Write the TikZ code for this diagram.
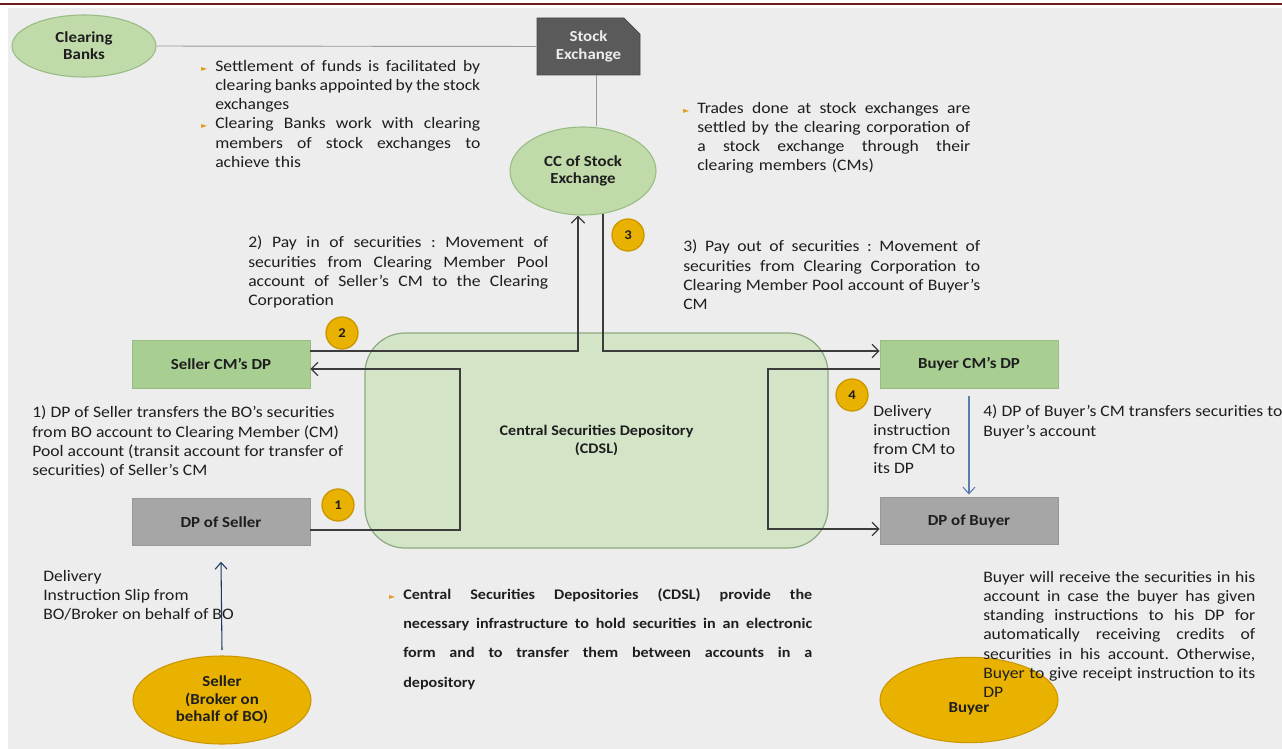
\documentclass[tikz,border=0pt]{standalone}
\usepackage{fontspec}
\setmainfont{Carlito}[FakeStretch=1.1]
\newfontfamily\symfont{DejaVu Sans}
\usetikzlibrary{arrows.meta,shapes.geometric,shapes.misc}
\definecolor{bgc}{HTML}{EDEDED}
\definecolor{redl}{HTML}{6E1C1C}
\definecolor{ellg}{HTML}{C0DAA9}
\definecolor{boxg}{HTML}{A9CE91}
\definecolor{gbord}{HTML}{98BC83}
\definecolor{grayb}{HTML}{A6A6A6}
\definecolor{grayd}{HTML}{979797}
\definecolor{sedark}{HTML}{5A5A5A}
\definecolor{gold}{HTML}{E9B200}
\definecolor{goldd}{HTML}{CC9600}
\definecolor{cdslf}{HTML}{D4E4C7}
\definecolor{cdslb}{HTML}{8CAA80}
\definecolor{txtc}{HTML}{1E1E1E}
\definecolor{flowc}{HTML}{3C3C3C}
\definecolor{bulc}{HTML}{E59A1C}
\definecolor{bluec}{HTML}{5A7DB0}
\definecolor{navyc}{HTML}{1F3864}
\definecolor{linec}{HTML}{9A9A9A}
\newcommand\tw{100pt}
\ExplSyntaxOn
\seq_new:N \l_jline_seq
\NewDocumentCommand\J{m}{
  \leavevmode\hbox~to~\tw{
    \seq_set_split:Nnn \l_jline_seq {~} {#1}
    \seq_use:Nn \l_jline_seq {\hskip\fontdimen2\font~plus~1fil~minus~\fontdimen4\font}
  }
}
\ExplSyntaxOff
\newcommand\bul{\llap{\textcolor{bulc}{\symfont\fontsize{6}{6}\selectfont ►}\hspace{6pt}}}
\begin{document}
\begin{tikzpicture}[x=0.75pt,y=-0.75pt,
  txt/.style={anchor=north west, inner sep=0pt, align=left, text=txtc, font=\fontsize{12}{14.4}\selectfont},
  lbl/.style={font=\bfseries\fontsize{11.5}{13}\selectfont, text=txtc, align=center},
  ellG/.style={ellipse, draw=gbord, fill=ellg, line width=0.8pt, inner sep=0pt, lbl},
  ellY/.style={ellipse, draw=goldd, fill=gold, line width=0.8pt, inner sep=0pt, lbl, minimum width=133.5pt, minimum height=66pt},
  boxG/.style={rectangle, draw=gbord, fill=boxg, minimum width=133.5pt, minimum height=36pt, lbl},
  boxGr/.style={rectangle, draw=grayd, fill=grayb, minimum width=133.5pt, minimum height=35.25pt, lbl},
  sebox/.style={chamfered rectangle, chamfered rectangle corners=north east, chamfered rectangle xsep=6pt, chamfered rectangle ysep=6pt, draw=sedark!80!black, fill=sedark, minimum width=77.25pt, minimum height=42.75pt, inner sep=0pt, font=\bfseries\fontsize{11.5}{13}\selectfont, text=bgc, align=center},
  num/.style={circle, draw=goldd, fill=gold, line width=1pt, minimum size=24pt, inner sep=0pt, font=\bfseries\fontsize{10}{10}\selectfont, text=txtc},
  flow/.style={draw=flowc, line width=1.3pt, -{Straight Barb[length=5pt,width=10pt,line width=1pt]}},
  thinl/.style={draw=linec, line width=0.7pt},
]
\useasboundingbox (0,0) rectangle (1282,749);
\fill[white] (0,0) rectangle (1282,749);
\fill[bgc] (8,8) rectangle (1282,749);
\draw[redl, line width=1.5pt] (0,4.5) -- (1282,4.5);

% main nodes
\node[rectangle, rounded corners=30pt, draw=cdslb, fill=cdslf, line width=0.9pt, minimum width=347.25pt, minimum height=161.25pt, lbl, font=\bfseries\fontsize{11}{13}\selectfont] (cdsl) at (596.5,440.5) {Central Securities Depository\\(CDSL)};
\node[ellG, minimum width=108pt, minimum height=46.5pt] (cb) at (84,46) {Clearing\\Banks};
\node[sebox] (se) at (588.5,46.5) {Stock\\Exchange};
\node[ellG, minimum width=109.5pt, minimum height=66pt] (cc) at (583,171) {CC of Stock\\Exchange};
\node[boxG] (scm) at (221,364) {Seller CM’s DP};
\node[boxGr] (dps) at (221,522) {DP of Seller};
\node[boxG] (bcm) at (969,364) {Buyer CM’s DP};
\node[boxGr] (dpb) at (969,521) {DP of Buyer};
\node[ellY] (sel) at (222,700) {Seller\\(Broker on\\behalf of BO)};
\node[ellY, minimum height=64pt] (buy) at (969,700) {\vphantom{B}\\Buyer};

% connectors
\draw[thinl] (cb.east) -- (se.west);
\draw[thinl] ([xshift=5.6pt]se.south) -- ([xshift=5.6pt]se.south |- cc.north);
\draw[flow] ([yshift=-6pt]dps.east) -- ++(150,0) |- ([yshift=-3.75pt]scm.east);
\draw[flow] ([yshift=9.75pt]scm.east) -| ([xshift=-3.75pt]cc.south);
\draw[flow] ([xshift=15pt,yshift=1pt]cc.south) |- ([yshift=9.75pt]bcm.west);
\draw[flow] ([yshift=-3.75pt]bcm.west) -- ++(-112,0) |- ([yshift=-6pt]dpb.west);
\draw[draw=bluec, line width=0.8pt, -{Straight Barb[length=5pt,width=9pt]}] ([yshift=-6pt]bcm.south) -- ([yshift=2pt]dpb.north);
\draw[draw=navyc, line width=0.8pt, -{Straight Barb[length=5pt,width=9pt]}] ([yshift=4pt]sel.north) -- ([yshift=-12pt]dps.south);

% numbers
\node[num] (n1) at (338,505) {1};
\node[num] (n2) at (342,333) {2};
\node[num] (n3) at (628,235) {3};
\node[num] (n4) at (852,395) {4};

% texts
\renewcommand\tw{198.75pt}
\node[txt, text width=198.75pt] (t1) at (215,60) {%
\J{\bul Settlement of funds is facilitated by}\\
\J{clearing banks appointed by the stock}\\
exchanges\\
\J{\bul Clearing Banks work with clearing}\\
\J{members of stock exchanges to}\\
achieve this};
\renewcommand\tw{204.75pt}
\node[txt, text width=204.75pt] (t2) at (697,102) {%
\J{\bul Trades done at stock exchanges are}\\
\J{settled by the clearing corporation of}\\
\J{a stock exchange through their}\\
clearing members (CMs)};
\renewcommand\tw{225pt}
\node[txt, text width=225pt] (t3) at (248,236) {%
\J{2) Pay in of securities : Movement of}\\
\J{securities from Clearing Member Pool}\\
\J{account of Seller’s CM to the Clearing}\\
Corporation};
\renewcommand\tw{222.75pt}
\node[txt, text width=222.75pt] (t4) at (683,240) {%
\J{3) Pay out of securities : Movement of}\\
\J{securities from Clearing Corporation to}\\
\J{Clearing Member Pool account of Buyer’s}\\
CM};
\node[txt] (t5) at (32,406) {1) DP of Seller transfers the BO’s securities\\
from BO account to Clearing Member (CM)\\
Pool account (transit account for transfer of\\
securities) of Seller’s CM};
\node[txt] (t6) at (43,570) {Delivery\\Instruction Slip from\\BO/Broker on behalf of BO};
\node[txt] (t7) at (873,405) {Delivery\\instruction\\from CM to\\its DP};
\node[txt] (t8) at (983,405) {4) DP of Buyer’s CM transfers securities to\\Buyer’s account};
\renewcommand\tw{306.75pt}
\node[txt, text width=306.75pt, font=\bfseries\fontsize{11}{22}\selectfont] (t9) at (403,588) {%
\J{\bul Central Securities Depositories (CDSL) provide the}\\
\J{necessary infrastructure to hold securities in an electronic}\\
\J{form and to transfer them between accounts in a}\\
depository};
\renewcommand\tw{204pt}
\node[txt, text width=204pt] (t10) at (983,571) {%
\J{Buyer will receive the securities in his}\\
\J{account in case the buyer has given}\\
\J{standing instructions to his DP for}\\
\J{automatically receiving credits of}\\
\J{securities in his account. Otherwise,}\\
\J{Buyer to give receipt instruction to its}\\
DP};
\end{tikzpicture}
\end{document}
